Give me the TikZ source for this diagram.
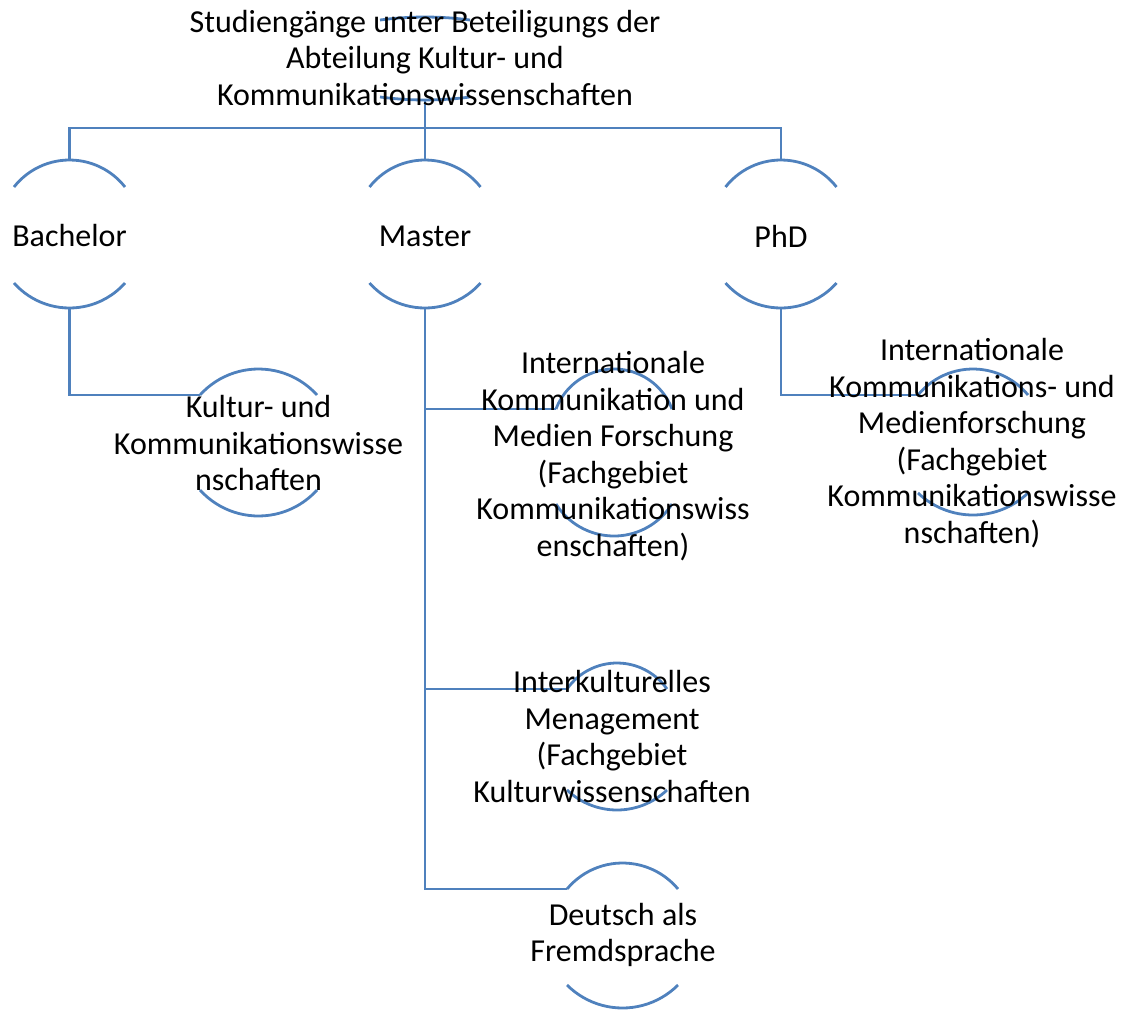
\documentclass[tikz,border=0pt]{standalone}
\usepackage{fontspec}
\setmainfont{Carlito}
\definecolor{linkblue}{HTML}{4F81BD}

% Upper and lower rim of a node frame: circular arcs through the apex
% (#1.north / #1.south) with half chord #2 and sagittas #3 (top) and #4 (bottom).
% The left end of the upper rim is stored as (#1-in).
\newcommand\rims[4]{%
  \pgfmathsetmacro\rimRt{(#2*#2+#3*#3)/(2*#3)}%
  \pgfmathsetmacro\rimAt{asin(#2/\rimRt)}%
  \pgfmathsetmacro\rimRb{(#2*#2+#4*#4)/(2*#4)}%
  \pgfmathsetmacro\rimAb{asin(#2/\rimRb)}%
  \path (#1.north) arc[start angle=90, end angle=90+\rimAt, radius=\rimRt] coordinate (#1-in);
  \draw[rim] (#1-in) arc[start angle=90+\rimAt, end angle=90-\rimAt, radius=\rimRt];
  \path (#1.south) arc[start angle=270, end angle=270-\rimAb, radius=\rimRb] coordinate (#1-out);
  \draw[rim] (#1-out) arc[start angle=270-\rimAb, end angle=270+\rimAb, radius=\rimRb];
}

\begin{document}
\begin{tikzpicture}[x=1pt, y=1pt,
  rim/.style={draw=linkblue, line width=2.8pt},
  link/.style={draw=linkblue, line width=2.8pt},
  frame/.style={inner sep=0pt, outer sep=0pt, minimum width=0pt, minimum height=#1},
  caption/.style={inner sep=0pt, outer sep=0pt, align=center, text=black,
    font=\fontsize{32}{36.5}\selectfont}]
\useasboundingbox (0,0) rectangle (1127,-1010);

% frames (invisible boxes whose north/south are the rim apexes)
\node[frame=83]  (root) at (425,-58.5) {};
\node[frame=148] (bac)  at (69.5,-234) {};
\node[frame=148] (mas)  at (425,-234) {};
\node[frame=148] (phd)  at (781,-234) {};
\node[frame=147] (kul)  at (258.5,-442.5) {};
\node[frame=167] (intl) at (614,-452.5) {};
\node[frame=146] (phdc) at (973,-442) {};
\node[frame=147] (ikm)  at (617,-736.5) {};
\node[frame=145] (dfs)  at (622.5,-935.5) {};

\rims{root}{45}{3}{3}
\rims{bac}{55.5}{27}{25}
\rims{mas}{55.5}{27}{25}
\rims{phd}{55.5}{27}{25}
\rims{kul}{58.5}{26}{26}
\rims{intl}{58}{40}{32}
\rims{phdc}{55}{26}{22}
\rims{ikm}{50}{26}{20}
\rims{dfs}{55.5}{26}{23}

% connectors
\coordinate (bus) at (425,-128);
\draw[link] (root.south) -- (mas.north);
\draw[link] (bac.north) |- (bus) -| (phd.north);
\draw[link] (bac.south) |- (kul-in);
\draw[link] (phd.south) |- (phdc-in);
\draw[link] (mas.south) |- (intl-in);
\draw[link] (mas.south) |- (ikm-in);
\draw[link] (mas.south) |- (dfs-in);

% captions
\node[caption] (root-t) at (425,-58) {Studiengänge unter Beteiligungs der\\Abteilung Kultur- und\\Kommunikationswissenschaften};
\node[caption] (bac-t) at (69.5,-236) {Bachelor};
\node[caption] (mas-t) at (425,-236) {Master};
\node[caption] (phd-t) at (781,-236) {PhD};
\node[caption] (kul-t) at (258.5,-443) {Kultur- und\\Kommunikationswisse\\nschaften};
\node[caption] (intl-t) at (613,-456) {Internationale\\Kommunikation und\\Medien Forschung\\(Fachgebiet\\Kommunikationswiss\\enschaften)};
\node[caption] (phdc-t) at (972,-443) {Internationale\\Kommunikations- und\\Medienforschung\\(Fachgebiet\\Kommunikationswisse\\nschaften)};
\node[caption] (ikm-t) at (612,-736.5) {Interkulturelles\\Menagement\\(Fachgebiet\\Kulturwissenschaften};
\node[caption] (dfs-t) at (623,-935) {Deutsch als\\Fremdsprache};
\end{tikzpicture}
\end{document}
